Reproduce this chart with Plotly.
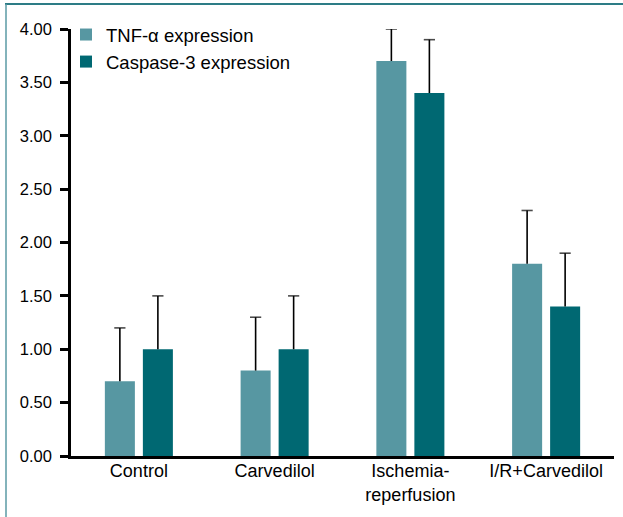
import plotly.graph_objects as go

categories = ["Control", "Carvedilol", "Ischemia-<br>reperfusion", "I/R+Carvedilol"]
tnf_values = [0.70, 0.80, 3.70, 1.80]
tnf_errors = [0.50, 0.50, 0.30, 0.50]
casp_values = [1.00, 1.00, 3.40, 1.40]
casp_errors = [0.50, 0.50, 0.50, 0.50]
y_ticks = [0, 0.5, 1.0, 1.5, 2.0, 2.5, 3.0, 3.5, 4.0]

W, H = 623, 517
ML, MR, MT, MB = 71, 9, 29, 61
PW, PH = W - ML - MR, H - MT - MB

TNF_COLOR = "#5797a2"
CASP_COLOR = "#006872"


def px(x):
    return (x - ML) / PW


def py(y):
    return (H - MB - y) / PH


fig = go.Figure()
series = [
    ("TNF-α expression", tnf_values, tnf_errors, TNF_COLOR, "a"),
    ("Caspase-3 expression", casp_values, casp_errors, CASP_COLOR, "b"),
]
for name, vals, errs, color, grp in series:
    fig.add_trace(go.Bar(
        name=name, x=categories, y=vals, offsetgroup=grp,
        marker=dict(color=color, line=dict(width=0)),
    ))

# one-sided (upward) error bars: vertical line from bar top to value+error, cap on top
for name, vals, errs, color, grp in series:
    ex, ey, es = [], [], []
    for c, v, e in zip(categories, vals, errs):
        ex += [c, c, c]
        ey += [v, v + e, None]
        es += [0, 8, 0]
    fig.add_trace(go.Scatter(
        x=ex, y=ey, offsetgroup=grp, mode="lines+markers", showlegend=False,
        hoverinfo="skip", connectgaps=False,
        line=dict(color="black", width=1.6),
        marker=dict(symbol="line-ew", size=es, color="black",
                    line=dict(color="black", width=1.6)),
    ))

fig.update_layout(
    width=W, height=H,
    margin=dict(l=ML, r=MR, t=MT, b=MB, pad=0),
    paper_bgcolor="white", plot_bgcolor="white",
    barmode="group", bargap=0.44, bargroupgap=0.21,
    scattermode="group", scattergap=0.44,
    font=dict(family="Liberation Sans, Arial, sans-serif", size=18, color="black"),
    showlegend=True,
    legend=dict(x=px(66), y=py(16), xanchor="left", yanchor="top",
                bgcolor="rgba(0,0,0,0)", font=dict(size=18.5),
                traceorder="normal", tracegroupgap=0),
    xaxis=dict(showline=True, linecolor="black", linewidth=2.5, ticks="",
               showgrid=False, zeroline=False, tickfont=dict(size=18),
               ticklabelstandoff=-3, range=[-0.5, 3.5]),
    yaxis=dict(showline=True, linecolor="black", linewidth=2.5, ticks="outside",
               ticklen=8, tickwidth=2.5, tickcolor="black",
               tickvals=y_ticks, tickformat=".2f", range=[0, 4],
               ticklabelstandoff=5,
               showgrid=False, zeroline=False, tickfont=dict(size=16.5)),
    shapes=[
        dict(type="line", xref="paper", yref="paper", x0=px(5), x1=px(623),
             y0=py(4), y1=py(4), line=dict(color="#2d7c86", width=2)),
        dict(type="line", xref="paper", yref="paper", x0=px(6), x1=px(6),
             y0=py(4), y1=py(520), line=dict(color="#5a9aa5", width=1.5)),
    ],
)

fig.write_html("out.html", config={"displayModeBar": False},
               post_script="document.body.style.margin='0';")
